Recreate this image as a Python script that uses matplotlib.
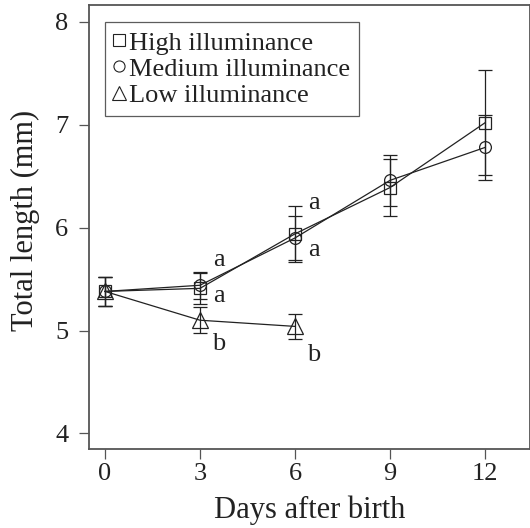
import matplotlib
matplotlib.use("Agg")
import matplotlib.pyplot as plt
from matplotlib.lines import Line2D

plt.rcParams['font.family'] = ['Liberation Serif', 'DejaVu Serif']

days_hm = [0, 3, 6, 9, 12]
days_low = [0, 3, 6]
high = [5.38, 5.41, 5.94, 6.39, 7.02]
high_err = [0.14, 0.15, 0.27, 0.28, 0.51]
medium = [5.38, 5.44, 5.90, 6.46, 6.78]
medium_err = [0.14, 0.13, 0.21, 0.25, 0.32]
low = [5.38, 5.10, 5.04]
low_err = [0.14, 0.125, 0.12]

letter_days = [3, 3, 3, 6, 6, 6]
letter_y = [5.69, 5.34, 4.87, 6.24, 5.78, 4.76]
letter_txt = ['a', 'a', 'b', 'a', 'a', 'b']

xticks = [0, 3, 6, 9, 12]
yticks = [4, 5, 6, 7, 8]

fig = plt.figure(figsize=(5.30, 5.28), dpi=100)
ax = fig.add_axes([89/530, 1-449.3/528, 441/530, (449.3-5)/528])

lc = '#222222'
common = dict(color=lc, lw=0.9, capsize=5, elinewidth=0.9, capthick=0.9,
              mfc='none', mec=lc, mew=0.9)
ax.errorbar(days_hm, high, yerr=high_err, marker='s', ms=9, **common)
ax.errorbar(days_hm, medium, yerr=medium_err, marker='o', ms=8.5, **common)
ax.errorbar(days_low, low, yerr=low_err, marker='^', ms=11, **common)

for x, y, t in zip(letter_days, letter_y, letter_txt):
    ax.text(x + 0.6, y, t, fontsize=19, ha='center', va='center', color='#222222')

ax.set_xlim(-0.505, 13.42)
ax.set_ylim(3.845, 8.165)
ax.set_xticks(xticks)
ax.set_yticks(yticks)
ax.tick_params(labelsize=19, length=7, width=0.9, color='#555555', labelcolor='#222222')
ax.tick_params(axis='x', pad=3)
ax.tick_params(axis='y', pad=8)
for s in ax.spines.values():
    s.set_color('#555555')
    s.set_linewidth(1.3)
ax.set_xlabel('Days after birth', fontsize=22, color='#222222')
ax.set_ylabel('Total length (mm)', fontsize=22, color='#222222')
ax.xaxis.set_label_coords(0.501, -0.105)
ax.yaxis.set_label_coords(-0.110, 0.516)

handles = [Line2D([], [], ls='none', marker='s', ms=8, mfc='none', mec=lc, mew=0.8),
           Line2D([], [], ls='none', marker='o', ms=8, mfc='none', mec=lc, mew=0.8),
           Line2D([], [], ls='none', marker='^', ms=10, mfc='none', mec=lc, mew=0.8)]
leg = ax.legend(handles, ['High illuminance', 'Medium illuminance', 'Low illuminance'],
                loc='upper left', bbox_to_anchor=(0.036, 0.962),
                fontsize=19, frameon=True, fancybox=False, handlelength=0.4,
                handletextpad=0.15, borderpad=0.35, labelspacing=0.1, borderaxespad=0)
leg.get_frame().set_edgecolor('#333333')
leg.get_frame().set_linewidth(0.9)
for t in leg.get_texts():
    t.set_color('#222222')

fig.savefig('out.png', dpi=100)
